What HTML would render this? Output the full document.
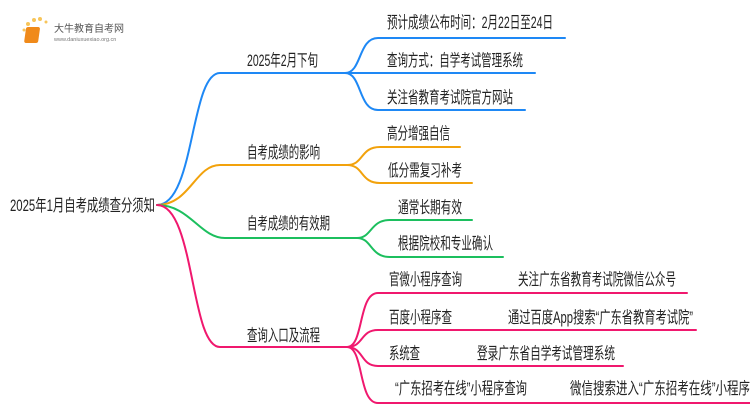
<!DOCTYPE html>
<html><head><meta charset="utf-8"><style>
html,body{margin:0;padding:0;background:#fff;width:750px;height:410px;overflow:hidden}
text{font-family:"Liberation Sans","Noto Sans CJK SC",sans-serif;font-size:16.5px;fill:#222}
</style></head><body>
<svg width="750" height="410" xmlns="http://www.w3.org/2000/svg">
<g fill="none" stroke-width="2" stroke-linecap="round">
<g stroke="#1e88f5">
<path d="M157,205 C195,205 190,73 220,73 L345,73"/>
<path d="M345,73 C362,73 358,38 378,38 L565,38"/>
<path d="M345,73 L535,73"/>
<path d="M345,73 C362,73 358,110 378,110 L525,110"/>
</g>
<g stroke="#f2a20c">
<path d="M157,205 C190,205 195,165 220,165 L347,165"/>
<path d="M347,165 C364,165 360,147 380,147 L460,147"/>
<path d="M347,165 C364,165 360,183 380,183 L472,183"/>
</g>
<g stroke="#1cbf5e">
<path d="M157,205 C190,205 200,238 225,238 L357,238"/>
<path d="M357,238 C372,238 370,220 390,220 L472,220"/>
<path d="M357,238 C372,238 370,257 390,257 L503,257"/>
</g>
<g stroke="#f0186e">
<path d="M157,205 C195,205 190,347 220,347 L347,347"/>
<path d="M347,347 C364,347 358,293 378,293 L687,293"/>
<path d="M347,347 C364,347 360,330 378,330 L696,330"/>
<path d="M347,347 C364,347 360,366 378,366 L623,366"/>
<path d="M347,347 C364,347 358,403 378,403 L750,403"/>
</g>
</g>
<g>
<circle cx="28" cy="24" r="2" fill="#f7c55a"/><circle cx="34" cy="20" r="2" fill="#f7c55a"/><circle cx="40" cy="19" r="2" fill="#f7c55a"/><circle cx="24" cy="30" r="1.5" fill="#f7c55a"/><circle cx="46" cy="22" r="1.5" fill="#f7c55a"/>
<rect x="30" y="27" width="14" height="16" rx="2" fill="#f08a1a" transform="skewX(-8)"/>
<text x="54" y="32" style="font-size:10px;fill:#555">大牛教育自考网</text>
<text x="54" y="41" style="font-size:5.5px;fill:#777">www.daniuxuexiao.org.cn</text>
</g>
<text x="10" y="211" textLength="145" lengthAdjust="spacingAndGlyphs">2025年1月自考成绩查分须知</text>
<text x="247" y="66" textLength="71" lengthAdjust="spacingAndGlyphs">2025年2月下旬</text>
<text x="247" y="158" textLength="73" lengthAdjust="spacingAndGlyphs">自考成绩的影响</text>
<text x="247" y="229" textLength="83" lengthAdjust="spacingAndGlyphs">自考成绩的有效期</text>
<text x="247" y="341" textLength="73" lengthAdjust="spacingAndGlyphs">查询入口及流程</text>
<text x="387" y="28" textLength="166" lengthAdjust="spacingAndGlyphs">预计成绩公布时间：2月22日至24日</text>
<text x="387" y="66" textLength="136" lengthAdjust="spacingAndGlyphs">查询方式：自学考试管理系统</text>
<text x="387" y="103" textLength="126" lengthAdjust="spacingAndGlyphs">关注省教育考试院官方网站</text>
<text x="387" y="139" textLength="63" lengthAdjust="spacingAndGlyphs">高分增强自信</text>
<text x="388" y="176" textLength="74" lengthAdjust="spacingAndGlyphs">低分需复习补考</text>
<text x="398" y="213" textLength="64" lengthAdjust="spacingAndGlyphs">通常长期有效</text>
<text x="398" y="249" textLength="95" lengthAdjust="spacingAndGlyphs">根据院校和专业确认</text>
<text x="389" y="285" textLength="73" lengthAdjust="spacingAndGlyphs">官微小程序查询</text>
<text x="518" y="285" textLength="158" lengthAdjust="spacingAndGlyphs">关注广东省教育考试院微信公众号</text>
<text x="389" y="323" textLength="63" lengthAdjust="spacingAndGlyphs">百度小程序查</text>
<text x="508" y="323" textLength="185" lengthAdjust="spacingAndGlyphs">通过百度App搜索“广东省教育考试院”</text>
<text x="389" y="359" textLength="31" lengthAdjust="spacingAndGlyphs">系统查</text>
<text x="477" y="359" textLength="138" lengthAdjust="spacingAndGlyphs">登录广东省自学考试管理系统</text>
<text x="395" y="394" textLength="132" lengthAdjust="spacingAndGlyphs">“广东招考在线”小程序查询</text>
<text x="570" y="394" textLength="180" lengthAdjust="spacingAndGlyphs">微信搜索进入“广东招考在线”小程序</text>
</svg>
</body></html>
